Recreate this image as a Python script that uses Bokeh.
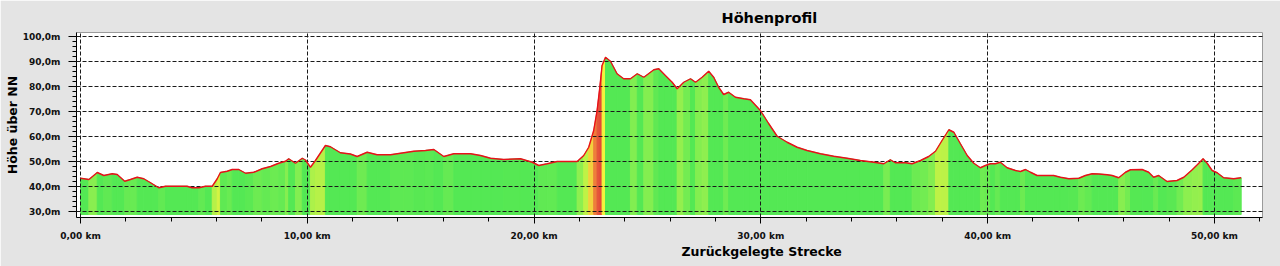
import numpy as np
from bokeh.plotting import figure
from bokeh.models import FixedTicker, Range1d, Title
from bokeh.embed import file_html
from bokeh.resources import INLINE

# ---------------- data ----------------
distance_km = [0.00, 0.37, 0.74, 1.03, 1.40, 1.62, 1.95, 2.20, 2.50, 2.79, 3.09, 3.45, 3.75,
               4.70, 4.92, 5.22, 5.51, 5.81, 6.03, 6.17, 6.47, 6.69, 6.98, 7.28, 7.64, 8.01,
               8.38, 8.74, 9.04, 9.18, 9.48, 9.78, 9.92, 10.14, 10.36, 10.80, 11.02, 11.46,
               11.90, 12.20, 12.64, 13.08, 13.67, 14.26, 14.70, 15.21, 15.58, 16.02, 16.46,
               17.20, 17.64, 18.08, 18.66, 19.40, 19.92, 20.21, 20.58, 21.02, 21.90, 22.19,
               22.41, 22.63, 22.78, 22.90, 23.00, 23.15, 23.37, 23.66, 23.95, 24.25, 24.55,
               24.84, 25.28, 25.50, 25.79, 26.09, 26.31, 26.60, 26.90, 27.12, 27.41, 27.70,
               27.92, 28.14, 28.36, 28.58, 28.88, 29.25, 29.54, 29.98, 30.35, 30.72, 31.16,
               31.60, 32.04, 32.63, 33.21, 33.80, 34.39, 34.98, 35.42, 35.71, 35.93, 36.38,
               36.67, 37.04, 37.40, 37.70, 37.99, 38.29, 38.51, 38.80, 39.10, 39.39, 39.68,
               39.90, 40.12, 40.34, 40.56, 40.86, 41.23, 41.45, 41.67, 41.89, 42.18, 42.91,
               43.21, 43.58, 44.02, 44.31, 44.61, 44.90, 45.27, 45.49, 45.78, 46.08, 46.30,
               46.81, 47.10, 47.32, 47.54, 47.91, 48.35, 48.65, 49.02, 49.31, 49.50, 49.68,
               49.90, 50.12, 50.41, 50.85, 51.18]
elevation_m = [43.3, 42.8, 45.6, 44.4, 45.1, 44.8, 42.1, 42.8, 43.7, 43.1, 41.5, 39.5, 40.1,
               40.1, 39.5, 39.5, 40.1, 40.1, 43.1, 45.6, 46.1, 46.8, 46.8, 45.3, 45.7, 47.1,
               48.0, 49.3, 50.1, 51.1, 49.3, 51.3, 50.6, 47.7, 50.4, 56.4, 55.9, 53.5,
               53.0, 52.0, 53.7, 52.7, 52.7, 53.5, 54.1, 54.4, 54.8, 52.0, 53.1,
               53.1, 52.4, 51.3, 50.8, 51.1, 49.7, 48.4, 49.1, 50.0, 50.0, 52.4,
               55.7, 62.4, 70.4, 79.7, 88.4, 91.7, 90.1, 85.1, 83.1, 83.1, 85.1,
               83.7, 86.7, 87.1, 84.4, 81.7, 79.1, 81.7, 83.1, 81.7, 83.7, 86.1,
               83.7, 79.7, 76.8, 77.7, 75.7, 75.1, 74.7, 70.4, 65.1, 60.1, 57.7,
               55.7, 54.4, 53.1, 52.1, 51.3, 50.4, 49.7, 49.1, 50.7, 49.5, 49.5,
               49.1, 50.4, 52.0, 54.1, 58.4, 62.7, 61.7, 57.1, 52.4, 49.3, 47.5,
               48.4, 49.1, 49.1, 49.7, 47.5, 46.4, 46.0, 46.8, 45.7, 44.4, 44.4,
               43.7, 43.1, 43.3, 44.4, 45.1, 45.0, 44.7, 44.4, 43.5, 45.7, 46.7,
               46.8, 45.7, 43.7, 44.4, 42.0, 42.4, 43.7, 46.7, 49.3, 51.1, 49.3,
               46.4, 45.5, 43.5, 43.1, 43.5]

x_ticks = [0, 10, 20, 30, 40, 50]
x_tick_labels = ["0,00 km", "10,00 km", "20,00 km", "30,00 km", "40,00 km", "50,00 km"]
x_minor_ticks = list(range(0, 53, 2))
y_ticks = [30, 40, 50, 60, 70, 80, 90, 100]
y_tick_labels = ["30,0m", "40,0m", "50,0m", "60,0m", "70,0m", "80,0m", "90,0m", "100,0m"]
y_minor_ticks = list(range(30, 101, 2))

chart_title = "Höhenprofil"
x_title = "Zurückgelegte Strecke"
y_title = "Höhe über NN"

assert len(distance_km) == len(elevation_m)

# ---------------- styling helpers ----------------
FILL_BASE = 28.8
grade_stops = [0, 6, 14, 22, 40, 60, 90]
rgb_stops = [(84, 232, 84), (125, 238, 82), (185, 242, 72), (240, 245, 62),
             (245, 170, 60), (235, 105, 60), (225, 70, 55)]


def grade_color(g):
    g = max(g, 0.0)
    r = np.interp(g, grade_stops, [c[0] for c in rgb_stops])
    gg = np.interp(g, grade_stops, [c[1] for c in rgb_stops])
    b = np.interp(g, grade_stops, [c[2] for c in rgb_stops])
    return "#%02x%02x%02x" % (int(r), int(gg), int(b))


d = np.array(distance_km)
e = np.array(elevation_m)
xs, ys, cols = [], [], []
for i in range(len(d) - 1):
    grade = (e[i + 1] - e[i]) / (d[i + 1] - d[i])
    xs.append([d[i], d[i], d[i + 1], d[i + 1]])
    ys.append([FILL_BASE, e[i], e[i + 1], FILL_BASE])
    cols.append(grade_color(grade))

# ---------------- figure ----------------
p = figure(width=1280, height=266,
           x_range=Range1d(-0.176, 52.12), y_range=Range1d(27.6, 101.6),
           output_backend="svg", toolbar_location=None,
           min_border_left=76, min_border_right=18, min_border_top=32, min_border_bottom=49)
p.background_fill_color = "white"
p.border_fill_color = "#e4e4e4"
p.outline_line_color = "#9a9a9a"

p.patches(xs, ys, fill_color=cols, line_color=cols, line_width=1)
p.line(distance_km, elevation_m, line_color="#e8101a", line_width=1.4, level="overlay")

p.xaxis.ticker = FixedTicker(ticks=x_ticks, minor_ticks=x_minor_ticks)
p.xaxis.major_label_overrides = dict(zip(x_ticks, x_tick_labels))
p.yaxis.ticker = FixedTicker(ticks=y_ticks, minor_ticks=y_minor_ticks)
p.yaxis.major_label_overrides = dict(zip(y_ticks, y_tick_labels))

for ax in (p.xaxis[0], p.yaxis[0]):
    ax.axis_line_color = "black"
    ax.major_tick_line_color = "black"
    ax.minor_tick_line_color = "black"
    ax.major_tick_in = 0
    ax.minor_tick_in = 0
    ax.major_label_text_font = "DejaVu Sans"
    ax.major_label_text_font_size = "9px"
    ax.major_label_text_font_style = "bold"
    ax.major_label_text_color = "#111111"

p.xaxis.major_tick_out = 6
p.xaxis.minor_tick_out = 4
p.xaxis.major_label_standoff = 7
p.yaxis.major_tick_out = 8
p.yaxis.minor_tick_out = 4
p.yaxis.major_label_standoff = 8

p.xgrid.ticker = FixedTicker(ticks=x_ticks)
p.ygrid.ticker = FixedTicker(ticks=y_ticks)
for g in (p.xgrid[0], p.ygrid[0]):
    g.grid_line_color = "#1a1a1a"
    g.grid_line_dash = "4 2"
    g.grid_line_width = 1
    g.level = "annotation"

p.add_layout(Title(text=chart_title, align="left", offset=645, standoff=14,
                   text_font="DejaVu Sans", text_font_size="14.5px",
                   text_font_style="bold", text_color="black"), "above")
p.add_layout(Title(text=x_title, align="left", offset=605, standoff=0,
                   vertical_align="top",
                   text_font="DejaVu Sans", text_font_size="12.5px",
                   text_font_style="bold", text_color="black"), "below")
p.add_layout(Title(text=y_title, align="center", offset=0, standoff=0,
                   text_font="DejaVu Sans", text_font_size="12.5px",
                   text_font_style="bold", text_color="black"), "left")

open("out.html", "w").write(file_html(p, INLINE))
